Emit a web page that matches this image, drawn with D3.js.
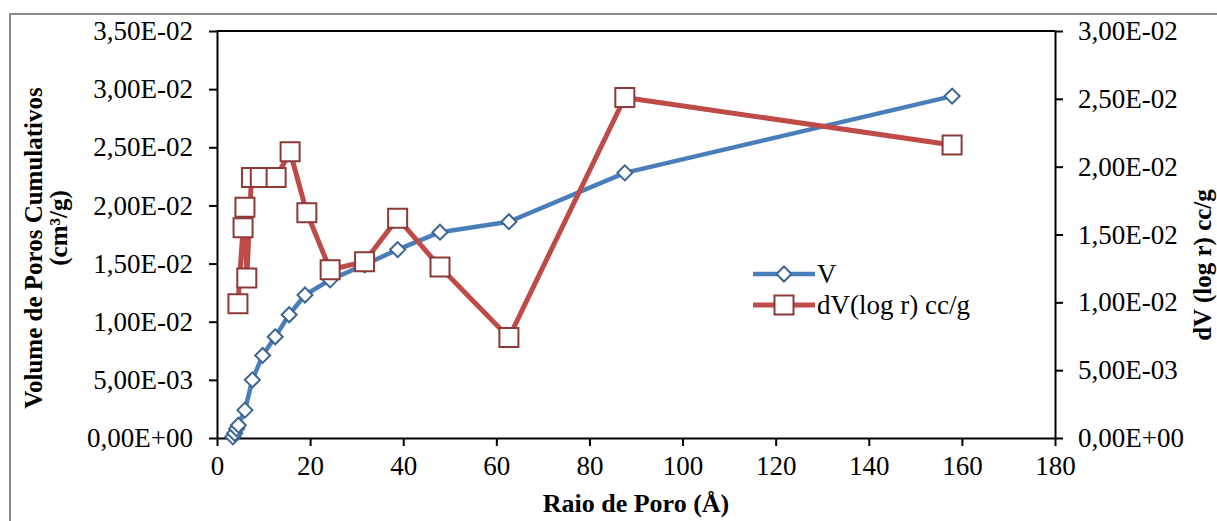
<!DOCTYPE html>
<html>
<head>
<meta charset="utf-8">
<script src="https://cdn.jsdelivr.net/npm/d3@7"></script>
<style>
  body { margin: 0; background: #fff; }
  text { font-family: "Liberation Serif", "Times New Roman", serif; fill: #000; }
</style>
</head>
<body>
<svg></svg>
<script>
// V (cumulative pore volume), left axis
let vRadius = [3.4, 3.8, 4.2, 4.6, 6.0, 7.6, 9.8, 12.5, 15.5, 18.9, 24.3, 31.7, 38.8, 47.9, 62.7, 87.6, 157.9];
let vValues = [0.0001, 0.0004, 0.0008, 0.0011, 0.0024, 0.0050, 0.0071, 0.0087, 0.0106, 0.0123, 0.0136, 0.0149, 0.0162, 0.0177, 0.0186, 0.0228, 0.0294];

// dV(log r), right axis
let dvRadius = [4.5, 5.6, 6.0, 6.4, 7.4, 9.3, 12.7, 15.7, 19.3, 24.3, 31.7, 38.8, 47.9, 62.7, 87.6, 157.9];
let dvValues = [0.0099, 0.0155, 0.0170, 0.0118, 0.0192, 0.0192, 0.0192, 0.0211, 0.0166, 0.0124, 0.0130, 0.0162, 0.0126, 0.0074, 0.0251, 0.0216];

let xTicks = [0, 20, 40, 60, 80, 100, 120, 140, 160, 180];
let leftTicks = [0, 0.005, 0.01, 0.015, 0.02, 0.025, 0.03, 0.035];
let leftLabels = ["0,00E+00", "5,00E-03", "1,00E-02", "1,50E-02", "2,00E-02", "2,50E-02", "3,00E-02", "3,50E-02"];
let rightTicks = [0, 0.005, 0.01, 0.015, 0.02, 0.025, 0.03];
let rightLabels = ["0,00E+00", "5,00E-03", "1,00E-02", "1,50E-02", "2,00E-02", "2,50E-02", "3,00E-02"];

let width = 1217;
let height = 521;
let plot = { left: 217, right: 1055, top: 31, bottom: 438 };

let blue = "#4a7ebb";
let blueDark = "#3b6494";
let red = "#be4b48";
let redDark = "#8c3a38";

let svg = d3.select("svg")
    .attr("width", width)
    .attr("height", height);

// outer chart frame
svg.append("rect")
    .attr("x", 10)
    .attr("y", 14)
    .attr("width", width + 20)
    .attr("height", height + 20)
    .attr("fill", "#fff")
    .attr("stroke", "#8a8a8a")
    .attr("stroke-width", 2);

let xScale = d3.scaleLinear().domain([0, 180]).range([plot.left, plot.right]);
let yLeft = d3.scaleLinear().domain([0, 0.035]).range([plot.bottom, plot.top]);
let yRight = d3.scaleLinear().domain([0, 0.03]).range([plot.bottom, plot.top]);

// top border of plot area
svg.append("line")
    .attr("x1", plot.left).attr("x2", plot.right)
    .attr("y1", plot.top).attr("y2", plot.top)
    .attr("stroke", "#000").attr("stroke-width", 2);

let styleAxis = g => {
    g.select(".domain").attr("stroke", "#000").attr("stroke-width", 2);
    g.selectAll(".tick line").attr("stroke", "#000").attr("stroke-width", 2);
    g.selectAll(".tick text")
        .attr("font-size", 27)
        .attr("font-family", "Liberation Serif, Times New Roman, serif")
        .attr("fill", "#000");
};

let xAxis = d3.axisBottom(xScale)
    .tickValues(xTicks)
    .tickFormat(d3.format("d"))
    .tickSize(8)
    .tickSizeOuter(0)
    .tickPadding(10);

let leftAxis = d3.axisLeft(yLeft)
    .tickValues(leftTicks)
    .tickFormat((d, i) => leftLabels[i])
    .tickSize(8)
    .tickSizeOuter(0)
    .tickPadding(16);

let rightAxis = d3.axisRight(yRight)
    .tickValues(rightTicks)
    .tickFormat((d, i) => rightLabels[i])
    .tickSize(8)
    .tickSizeOuter(0)
    .tickPadding(15);

svg.append("g")
    .attr("transform", `translate(0, ${plot.bottom})`)
    .call(xAxis)
    .call(styleAxis);

svg.append("g")
    .attr("transform", `translate(${plot.left}, 0)`)
    .call(leftAxis)
    .call(styleAxis);

svg.append("g")
    .attr("transform", `translate(${plot.right}, 0)`)
    .call(rightAxis)
    .call(styleAxis);

// series
let vData = vRadius.map((r, i) => ({ x: r, y: vValues[i] }));
let dvData = dvRadius.map((r, i) => ({ x: r, y: dvValues[i] }));

let diamondPath = s => `M0,${-s}L${s},0L0,${s}L${-s},0Z`;
let squarePath = s => `M${-s},${-s}H${s}V${s}H${-s}Z`;

svg.append("path")
    .datum(vData)
    .attr("fill", "none")
    .attr("stroke", blue)
    .attr("stroke-width", 4.5)
    .attr("stroke-linejoin", "round")
    .attr("d", d3.line().x(d => xScale(d.x)).y(d => yLeft(d.y)));

svg.selectAll(".vmark")
    .data(vData)
    .enter()
    .append("path")
    .attr("class", "vmark")
    .attr("transform", d => `translate(${xScale(d.x)}, ${yLeft(d.y)})`)
    .attr("d", diamondPath(7.5))
    .attr("fill", "#fff")
    .attr("stroke", blueDark)
    .attr("stroke-width", 2);

svg.append("path")
    .datum(dvData)
    .attr("fill", "none")
    .attr("stroke", red)
    .attr("stroke-width", 5)
    .attr("stroke-linejoin", "round")
    .attr("d", d3.line().x(d => xScale(d.x)).y(d => yRight(d.y)));

svg.selectAll(".dvmark")
    .data(dvData)
    .enter()
    .append("path")
    .attr("class", "dvmark")
    .attr("transform", d => `translate(${xScale(d.x)}, ${yRight(d.y)})`)
    .attr("d", squarePath(9.5))
    .attr("fill", "#fff")
    .attr("stroke", redDark)
    .attr("stroke-width", 2);

// legend
let legend = svg.append("g");
let legendRows = [
    { name: "V", y: 274, color: blue, dark: blueDark, path: diamondPath(7.5), w: 4.5 },
    { name: "dV(log r) cc/g", y: 305, color: red, dark: redDark, path: squarePath(9.5), w: 5 }
];
legendRows.forEach(row => {
    legend.append("line")
        .attr("x1", 753).attr("x2", 815)
        .attr("y1", row.y).attr("y2", row.y)
        .attr("stroke", row.color).attr("stroke-width", row.w);
    legend.append("path")
        .attr("transform", `translate(784, ${row.y})`)
        .attr("d", row.path)
        .attr("fill", "#fff")
        .attr("stroke", row.dark)
        .attr("stroke-width", 2);
    legend.append("text")
        .attr("x", 817)
        .attr("y", row.y)
        .attr("dy", "0.33em")
        .attr("font-size", 27)
        .text(row.name);
});

// axis titles
svg.append("text")
    .attr("x", 636)
    .attr("y", 512)
    .attr("text-anchor", "middle")
    .attr("font-size", 26)
    .attr("font-weight", "bold")
    .text("Raio de Poro (Å)");

svg.append("text")
    .attr("transform", "translate(42, 248) rotate(-90)")
    .attr("text-anchor", "middle")
    .attr("font-size", 25)
    .attr("font-weight", "bold")
    .text("Volume de Poros Cumulativos");

svg.append("text")
    .attr("transform", "translate(67, 228) rotate(-90)")
    .attr("text-anchor", "middle")
    .attr("font-size", 25)
    .attr("font-weight", "bold")
    .text("(cm³/g)");

svg.append("text")
    .attr("transform", "translate(1211, 265) rotate(-90)")
    .attr("text-anchor", "middle")
    .attr("font-size", 25)
    .attr("font-weight", "bold")
    .text("dV (log r) cc/g");
</script>
</body>
</html>
